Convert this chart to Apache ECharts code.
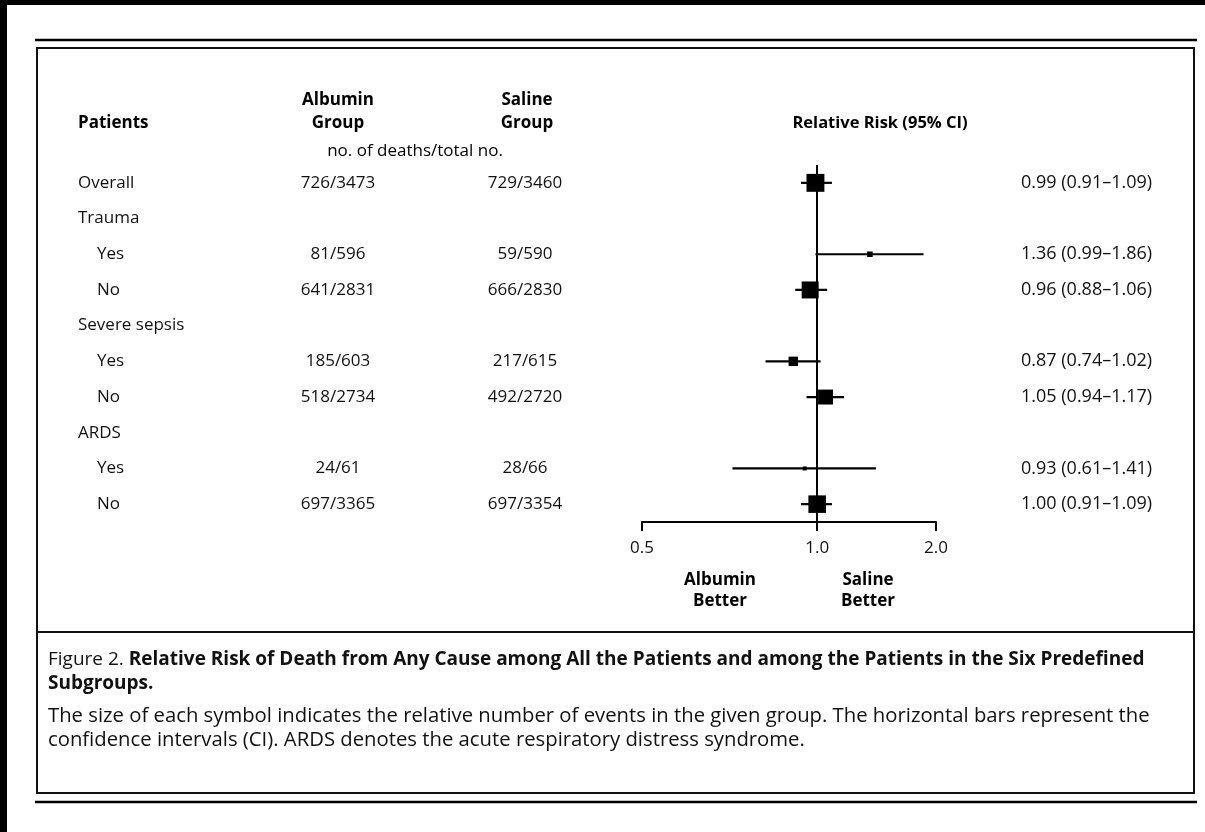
<!DOCTYPE html>
<html>
<head>
<meta charset="utf-8">
<script src="https://cdn.jsdelivr.net/npm/echarts@6/dist/echarts.min.js"></script>
<style>
  html, body { margin: 0; padding: 0; background: #fff; }
  #chart { width: 1205px; height: 832px; }
</style>
</head>
<body>
<div id="chart"></div>
<script>
// Subgroup rows, top to bottom
const rowLabels = ['Overall', 'Trauma', 'Yes', 'No', 'Severe sepsis', 'Yes', 'No', 'ARDS', 'Yes', 'No'];
const isSubRow  = [false, false, true, true, false, true, true, false, true, true];

// Deaths / total patients per arm (null = heading row)
const albuminDeaths = [726, null, 81, 641, null, 185, 518, null, 24, 697];
const albuminTotal  = [3473, null, 596, 2831, null, 603, 2734, null, 61, 3365];
const salineDeaths  = [729, null, 59, 666, null, 217, 492, null, 28, 697];
const salineTotal   = [3460, null, 590, 2830, null, 615, 2720, null, 66, 3354];

// Relative risk with 95% confidence interval
const relRisk = [0.99, null, 1.36, 0.96, null, 0.87, 1.05, null, 0.93, 1.00];
const ciLow   = [0.91, null, 0.99, 0.88, null, 0.74, 0.94, null, 0.61, 0.91];
const ciHigh  = [1.09, null, 1.86, 1.06, null, 1.02, 1.17, null, 1.41, 1.09];

// Risk axis
const axisMin = 0.36;
const axisMax = 2.0;
const tickValues = [0.36, 1.0, 2.0];
const tickLabels = ['0.5', '1.0', '2.0'];

const FONT = '"Open Sans", "Noto Sans", sans-serif';
const fmt2 = v => v.toFixed(2);

const countText = (d, t) => d == null ? '' : d + '/' + t;
const albuminText = albuminDeaths.map((d, i) => countText(d, albuminTotal[i]));
const salineText  = salineDeaths.map((d, i) => countText(d, salineTotal[i]));
const riskText = relRisk.map((r, i) =>
  r == null ? '' : fmt2(r) + ' (' + fmt2(ciLow[i]) + '\u2013' + fmt2(ciHigh[i]) + ')');

// Symbol area follows the number of deaths in the subgroup
const events = albuminDeaths.map((d, i) => d == null ? null : d + salineDeaths[i]);

const pointData = [];
const ciData = [];
relRisk.forEach((r, i) => {
  if (r == null) return;
  pointData.push({ value: [r, i], symbolSize: Math.max(4, 0.47 * Math.sqrt(events[i])) });
  ciData.push([ciLow[i], ciHigh[i], i]);
});

const GRID = { left: 642, right: 269, top: 165, bottom: 310 };
const gridLeftPx = GRID.left;
const gridRightPx = 1205 - GRID.right;

function labelForTick(v) {
  for (let k = 0; k < tickValues.length; k++) {
    if (Math.abs(tickValues[k] - v) < 1e-6 || Math.abs(tickValues[k] - Math.pow(10, v)) < 1e-6) {
      return tickLabels[k];
    }
  }
  return '';
}

const baseText = { fontFamily: FONT, fontSize: 17, color: '#111' };

function columnAxis(data, position, margin, align, size) {
  const label = Object.assign({ margin: margin, align: align, interval: 0 }, baseText);
  if (size) label.fontSize = size;
  return {
    type: 'category',
    inverse: true,
    position: position,
    data: data,
    axisLine: { show: false },
    axisTick: { show: false },
    splitLine: { show: false },
    axisLabel: label
  };
}

const rowAxis = columnAxis(rowLabels, 'left', gridLeftPx - 78, 'left');
rowAxis.axisLabel.formatter = (v, i) => isSubRow[i] ? '{sub|' + v + '}' : '{main|' + v + '}';
rowAxis.axisLabel.rich = {
  main: Object.assign({}, baseText),
  sub: Object.assign({ padding: [0, 0, 0, 19] }, baseText)
};

const chart = echarts.init(document.getElementById('chart'), null, { renderer: 'canvas' });

chart.setOption({
  backgroundColor: '#fff',
  animation: false,
  grid: GRID,
  xAxis: {
    type: 'log',
    logBase: 10,
    min: axisMin,
    max: axisMax,
    axisLine: { show: true, lineStyle: { color: '#000', width: 2 } },
    axisTick: { show: true, customValues: tickValues, length: 9, lineStyle: { color: '#000', width: 2 } },
    axisLabel: Object.assign({ customValues: tickValues, margin: 18, formatter: labelForTick }, baseText),
    splitLine: { show: false },
    minorTick: { show: false }
  },
  yAxis: [
    rowAxis,
    columnAxis(albuminText, 'left', gridLeftPx - 338, 'center'),
    columnAxis(salineText, 'left', gridLeftPx - 525, 'center'),
    columnAxis(riskText, 'right', 1021 - gridRightPx, 'left', 18)
  ],
  series: [
    {
      type: 'custom',
      name: 'CI',
      data: ciData,
      renderItem: (params, api) => {
        const a = api.coord([api.value(0), api.value(2)]);
        const b = api.coord([api.value(1), api.value(2)]);
        return {
          type: 'line',
          shape: { x1: a[0], y1: a[1], x2: b[0], y2: b[1] },
          style: { stroke: '#000', lineWidth: 2.2 }
        };
      },
      encode: { x: [0, 1], y: 2 },
      z: 3
    },
    {
      type: 'scatter',
      name: 'Relative risk',
      symbol: 'rect',
      data: pointData,
      itemStyle: { color: '#000', opacity: 1 },
      emphasis: { disabled: true },
      z: 4,
      markLine: {
        silent: true,
        symbol: 'none',
        label: { show: false },
        lineStyle: { color: '#000', width: 2, type: 'solid', opacity: 1 },
        data: [{ xAxis: 1 }]
      }
    }
  ],
  graphic: [
    // dark scan edges
    { type: 'rect', shape: { x: 0, y: 0, width: 1205, height: 5 }, style: { fill: '#000' }, silent: true },
    { type: 'rect', shape: { x: 0, y: 0, width: 7, height: 832 }, style: { fill: '#000' }, silent: true },
    // rules above and below the figure box
    { type: 'line', shape: { x1: 35, y1: 40, x2: 1197, y2: 40 }, style: { stroke: '#000', lineWidth: 2.5 }, silent: true },
    { type: 'line', shape: { x1: 35, y1: 802, x2: 1197, y2: 802 }, style: { stroke: '#000', lineWidth: 2.5 }, silent: true },
    // figure box and caption divider
    { type: 'rect', shape: { x: 37, y: 48, width: 1157, height: 745 }, style: { fill: 'none', stroke: '#111', lineWidth: 2 }, silent: true },
    { type: 'line', shape: { x1: 37, y1: 632, x2: 1194, y2: 632 }, style: { stroke: '#111', lineWidth: 2 }, silent: true },
    // column headings
    { type: 'text', x: 78, y: 123, style: Object.assign({ text: 'Patients', fontWeight: 'bold', verticalAlign: 'middle' }, baseText) },
    { type: 'text', x: 338, y: 112, style: Object.assign({ text: 'Albumin\nGroup', fontWeight: 'bold', align: 'center', verticalAlign: 'middle', lineHeight: 23 }, baseText) },
    { type: 'text', x: 527, y: 112, style: Object.assign({ text: 'Saline\nGroup', fontWeight: 'bold', align: 'center', verticalAlign: 'middle', lineHeight: 23 }, baseText) },
    { type: 'text', x: 880, y: 123, style: Object.assign({ text: 'Relative Risk (95% CI)', fontWeight: 'bold', align: 'center', verticalAlign: 'middle' }, baseText, { fontSize: 16.5 }) },
    { type: 'text', x: 415, y: 151, style: Object.assign({ text: 'no. of deaths/total no.', align: 'center', verticalAlign: 'middle' }, baseText) },
    // favour labels under the risk axis
    { type: 'text', x: 720, y: 591, style: Object.assign({ text: 'Albumin\nBetter', fontWeight: 'bold', align: 'center', verticalAlign: 'middle', lineHeight: 21 }, baseText) },
    { type: 'text', x: 868, y: 591, style: Object.assign({ text: 'Saline\nBetter', fontWeight: 'bold', align: 'center', verticalAlign: 'middle', lineHeight: 21 }, baseText) },
    // caption
    {
      type: 'text', x: 48, y: 648,
      style: {
        text: '{g|Figure 2.} {b|Relative Risk of Death from Any Cause among All the Patients and among the Patients in the Six Predefined}\n{b|Subgroups.}',
        fontFamily: FONT, fontSize: 19, lineHeight: 24, fill: '#111',
        rich: {
          g: { fontFamily: FONT, fontSize: 19, color: '#8a8a8a', lineHeight: 24 },
          b: { fontFamily: FONT, fontSize: 19, fontWeight: 'bold', color: '#111', lineHeight: 24 }
        }
      }
    },
    {
      type: 'text', x: 48, y: 704,
      style: {
        text: 'The size of each symbol indicates the relative number of events in the given group. The horizontal bars represent the\nconfidence intervals (CI). ARDS denotes the acute respiratory distress syndrome.',
        fontFamily: FONT, fontSize: 20.3, lineHeight: 24, fill: '#111'
      }
    }
  ]
});
</script>
</body>
</html>
